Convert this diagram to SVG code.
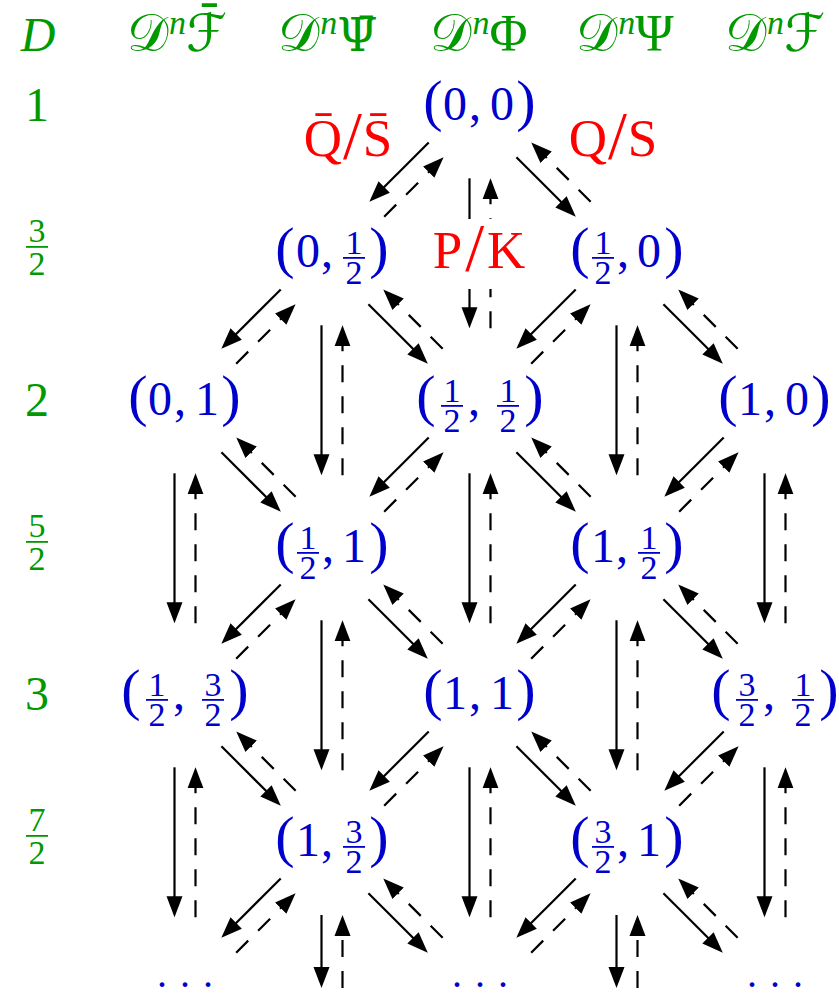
<svg xmlns="http://www.w3.org/2000/svg" width="839" height="996" viewBox="0 0 839 996">
<defs>
<style>
text{font-family:"Liberation Serif","Times New Roman",serif;text-anchor:middle}
.b{fill:#0000CC}
.g{fill:#009900}
.r{fill:#FF0000}
.m{font-size:48px}
.p{font-size:58px}
.f{font-size:34px}
.h{font-size:52px}
.rl{font-size:53px}
.sl{font-size:68px}
.it{font-style:italic}
.cal{font-family:"DejaVu Serif","DejaVu Sans",serif}
.dj{font-family:"DejaVu Serif",serif;font-size:46px}
.sup{font-size:34px;font-style:italic}
.dots{font-size:40px;letter-spacing:13px}
.s,.d{stroke:#000;stroke-width:2.2;fill:none;marker-end:url(#ah)}
.d{stroke-dasharray:17 14}
</style>
<marker id="ah" viewBox="0 0 22 18" refX="11" refY="9" markerWidth="22" markerHeight="18" markerUnits="userSpaceOnUse" orient="auto"><path d="M0,1L21,9L0,17z" fill="#000"/></marker>
<g id="dl"><line class="s" x1="-51.26" y1="36.42" x2="-103.59" y2="88.75"/><line class="d" x1="-95.82" y1="110.66" x2="-43.49" y2="58.33"/></g>
<g id="dr"><line class="s" x1="36.42" y1="51.26" x2="88.75" y2="103.59"/><line class="d" x1="110.66" y1="95.82" x2="58.33" y2="43.49"/></g>
<g id="vv"><line class="s" x1="-10.5" y1="72.3" x2="-10.5" y2="212.3"/><line class="d" x1="10.5" y1="222.3" x2="10.5" y2="82.3"/></g>
<g id="vt"><line class="s" x1="-10.5" y1="73" x2="-10.5" y2="136"/><line class="d" x1="10.5" y1="146" x2="10.5" y2="83"/></g>
</defs>

<g id="header" class="g">
<text class="m it" x="38" y="51">D</text>
<text class="h" x="177" y="51"><tspan class="cal">𝒟</tspan><tspan class="sup" dy="-17">n</tspan><tspan class="cal" dy="17">ℱ̄</tspan></text>
<text class="h" x="328" y="51"><tspan class="cal">𝒟</tspan><tspan class="sup" dy="-17">n</tspan><tspan class="dj" dy="17">Ψ̄</tspan></text>
<text class="h" x="479" y="51"><tspan class="cal">𝒟</tspan><tspan class="sup" dy="-17">n</tspan><tspan dy="17">Φ</tspan></text>
<text class="h" x="625" y="51"><tspan class="cal">𝒟</tspan><tspan class="sup" dy="-17">n</tspan><tspan dy="17">Ψ</tspan></text>
<text class="h" x="775" y="51"><tspan class="cal">𝒟</tspan><tspan class="sup" dy="-17">n</tspan><tspan class="cal" dy="17">ℱ</tspan></text>
</g>

<g id="dimensions" class="g">
<text class="m" x="37" y="121">1</text>
<text class="f" x="37" y="242">3</text><rect x="26" y="246" width="22" height="1.8"/><text class="f" x="37" y="275">2</text>
<text class="m" x="37" y="416">2</text>
<text class="f" x="37" y="537">5</text><rect x="26" y="541" width="22" height="1.8"/><text class="f" x="37" y="570">2</text>
<text class="m" x="37" y="710">3</text>
<text class="f" x="37" y="831">7</text><rect x="26" y="835" width="22" height="1.8"/><text class="f" x="37" y="864">2</text>
</g>

<g id="connectors">
<use href="#dl" x="480" y="106"/><use href="#dr" x="480" y="106"/><use href="#vv" x="480" y="106"/>
<use href="#dl" x="332" y="253"/><use href="#dr" x="332" y="253"/><use href="#vv" x="332" y="253"/>
<use href="#dl" x="627" y="253"/><use href="#dr" x="627" y="253"/><use href="#vv" x="627" y="253"/>
<use href="#dr" x="185" y="401"/><use href="#vv" x="185" y="401"/>
<use href="#dl" x="480" y="401"/><use href="#dr" x="480" y="401"/><use href="#vv" x="480" y="401"/>
<use href="#dl" x="775" y="401"/><use href="#vv" x="775" y="401"/>
<use href="#dl" x="332" y="548"/><use href="#dr" x="332" y="548"/><use href="#vv" x="332" y="548"/>
<use href="#dl" x="627" y="548"/><use href="#dr" x="627" y="548"/><use href="#vv" x="627" y="548"/>
<use href="#dr" x="185" y="695"/><use href="#vv" x="185" y="695"/>
<use href="#dl" x="480" y="695"/><use href="#dr" x="480" y="695"/><use href="#vv" x="480" y="695"/>
<use href="#dl" x="775" y="695"/><use href="#vv" x="775" y="695"/>
<use href="#dl" x="332" y="842"/><use href="#dr" x="332" y="842"/><use href="#vt" x="332" y="842"/>
<use href="#dl" x="627" y="842"/><use href="#dr" x="627" y="842"/><use href="#vt" x="627" y="842"/>
</g>

<g id="labels" class="r">
<text class="rl" x="348" y="156">Q̄<tspan class="sl" dx="1" dy="2">/</tspan><tspan dx="1" dy="-2">S̄</tspan></text>
<text class="rl" x="613" y="156">Q<tspan class="sl" dx="1" dy="2">/</tspan><tspan dx="1" dy="-2">S</tspan></text>
<rect x="430" y="219" width="100" height="70" fill="#fff"/>
<text class="rl" x="479" y="268">P<tspan class="sl" dx="3" dy="2">/</tspan><tspan dx="3" dy="-2">K</tspan></text>
</g>

<g id="n00" class="b">
<text class="p" x="433" y="120">(</text><text class="m" x="455" y="120">0</text><text class="m" x="475" y="120">,</text><text class="m" x="502" y="120">0</text><text class="p" x="526" y="120">)</text>
</g>
<g id="n0h" class="b">
<text class="p" x="285" y="267">(</text><text class="m" x="308" y="267">0</text><text class="m" x="327" y="267">,</text>
<text class="f" x="354" y="254">1</text><rect x="343" y="257" width="22" height="1.8"/><text class="f" x="354" y="284">2</text>
<text class="p" x="379" y="267">)</text>
</g>
<g id="nh0" class="b">
<text class="p" x="580" y="267">(</text>
<text class="f" x="603" y="254">1</text><rect x="592" y="257" width="22" height="1.8"/><text class="f" x="603" y="284">2</text>
<text class="m" x="623" y="267">,</text><text class="m" x="649" y="267">0</text><text class="p" x="674" y="267">)</text>
</g>
<g id="n01" class="b">
<text class="p" x="138" y="415">(</text><text class="m" x="160" y="415">0</text><text class="m" x="180" y="415">,</text><text class="m" x="207" y="415">1</text><text class="p" x="231" y="415">)</text>
</g>
<g id="nhh" class="b">
<text class="p" x="426" y="415">(</text>
<text class="f" x="452" y="402">1</text><rect x="441" y="405" width="22" height="1.8"/><text class="f" x="452" y="432">2</text>
<text class="m" x="474" y="415">,</text>
<text class="f" x="508" y="402">1</text><rect x="497" y="405" width="22" height="1.8"/><text class="f" x="508" y="432">2</text>
<text class="p" x="534" y="415">)</text>
</g>
<g id="n10" class="b">
<text class="p" x="728" y="415">(</text><text class="m" x="750" y="415">1</text><text class="m" x="770" y="415">,</text><text class="m" x="797" y="415">0</text><text class="p" x="821" y="415">)</text>
</g>
<g id="nh1" class="b">
<text class="p" x="285" y="562">(</text>
<text class="f" x="308" y="549">1</text><rect x="297" y="552" width="22" height="1.8"/><text class="f" x="308" y="579">2</text>
<text class="m" x="328" y="562">,</text><text class="m" x="354" y="562">1</text><text class="p" x="379" y="562">)</text>
</g>
<g id="n1h" class="b">
<text class="p" x="580" y="562">(</text><text class="m" x="603" y="562">1</text><text class="m" x="622" y="562">,</text>
<text class="f" x="649" y="549">1</text><rect x="638" y="552" width="22" height="1.8"/><text class="f" x="649" y="579">2</text>
<text class="p" x="674" y="562">)</text>
</g>
<g id="nh3" class="b">
<text class="p" x="131" y="709">(</text>
<text class="f" x="157" y="696">1</text><rect x="146" y="699" width="22" height="1.8"/><text class="f" x="157" y="726">2</text>
<text class="m" x="179" y="709">,</text>
<text class="f" x="213" y="696">3</text><rect x="202" y="699" width="22" height="1.8"/><text class="f" x="213" y="726">2</text>
<text class="p" x="239" y="709">)</text>
</g>
<g id="n11" class="b">
<text class="p" x="433" y="709">(</text><text class="m" x="455" y="709">1</text><text class="m" x="475" y="709">,</text><text class="m" x="502" y="709">1</text><text class="p" x="526" y="709">)</text>
</g>
<g id="n3h" class="b">
<text class="p" x="721" y="709">(</text>
<text class="f" x="747" y="696">3</text><rect x="736" y="699" width="22" height="1.8"/><text class="f" x="747" y="726">2</text>
<text class="m" x="769" y="709">,</text>
<text class="f" x="803" y="696">1</text><rect x="792" y="699" width="22" height="1.8"/><text class="f" x="803" y="726">2</text>
<text class="p" x="829" y="709">)</text>
</g>
<g id="n13" class="b">
<text class="p" x="285" y="856">(</text><text class="m" x="308" y="856">1</text><text class="m" x="327" y="856">,</text>
<text class="f" x="354" y="843">3</text><rect x="343" y="846" width="22" height="1.8"/><text class="f" x="354" y="873">2</text>
<text class="p" x="379" y="856">)</text>
</g>
<g id="n31" class="b">
<text class="p" x="580" y="856">(</text>
<text class="f" x="603" y="843">3</text><rect x="592" y="846" width="22" height="1.8"/><text class="f" x="603" y="873">2</text>
<text class="m" x="623" y="856">,</text><text class="m" x="649" y="856">1</text><text class="p" x="674" y="856">)</text>
</g>
<g id="dots1" class="b"><text class="dots" x="191.5" y="987">...</text></g>
<g id="dots2" class="b"><text class="dots" x="486.5" y="987">...</text></g>
<g id="dots3" class="b"><text class="dots" x="781.5" y="987">...</text></g>
</svg>
